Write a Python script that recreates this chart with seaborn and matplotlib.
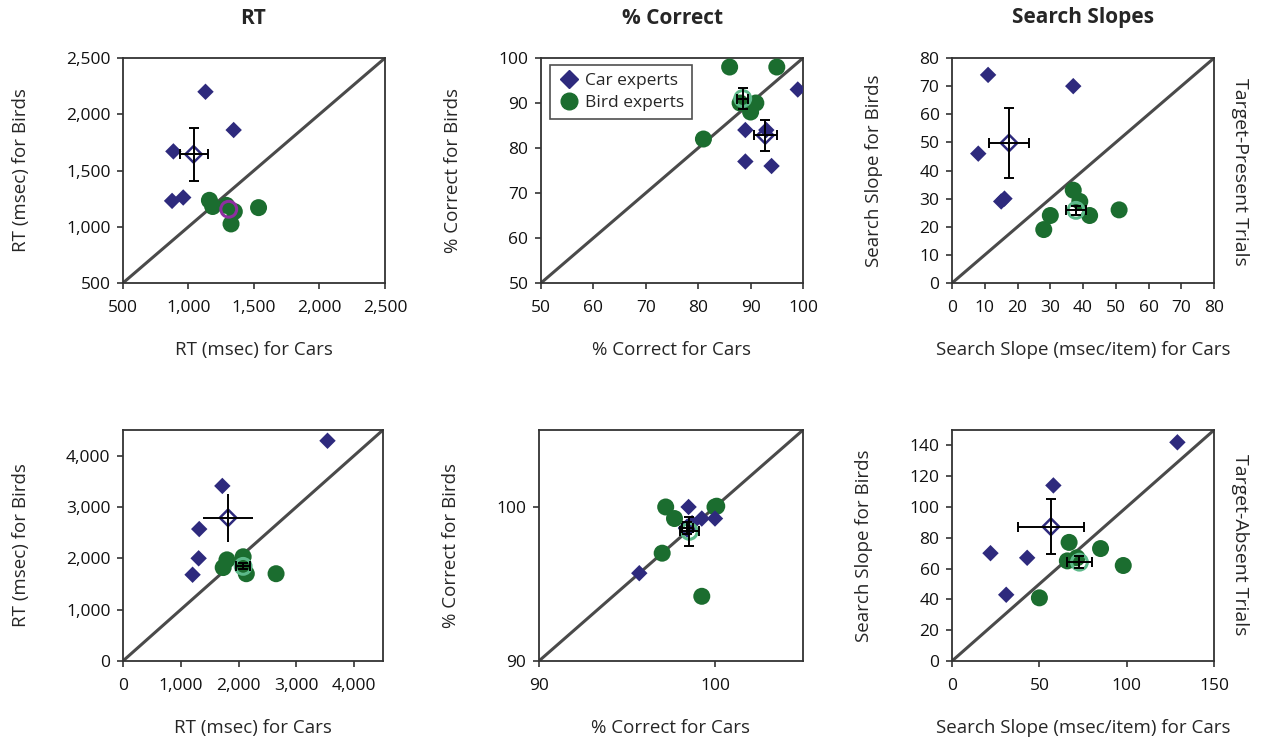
import numpy as np
import matplotlib
matplotlib.use("Agg")
import matplotlib.pyplot as plt
import seaborn as sns
from matplotlib.ticker import StrMethodFormatter
from matplotlib.lines import Line2D

sns.set_style("ticks")
plt.rcParams["font.family"] = ["Open Sans", "DejaVu Sans"]

# ---- data ----
# top row: target-present trials
rt_tp_car_x = [1130, 1345, 885, 875, 960]
rt_tp_car_y = [2200, 1860, 1670, 1230, 1260]
rt_tp_bird_x = [1160, 1185, 1290, 1350, 1325, 1535]
rt_tp_bird_y = [1235, 1180, 1190, 1135, 1025, 1170]

pc_tp_car_x = [99, 89, 89, 93, 94]
pc_tp_car_y = [93, 84, 77, 84, 76]
pc_tp_bird_x = [86, 95, 81, 88, 91, 90]
pc_tp_bird_y = [98, 98, 82, 90, 90, 88]

ss_tp_car_x = [11, 37, 8, 15, 16]
ss_tp_car_y = [74, 70, 46, 29, 30]
ss_tp_bird_x = [37, 39, 30, 42, 28, 51]
ss_tp_bird_y = [33, 29, 24, 24, 19, 26]

# bottom row: target-absent trials
rt_ta_car_x = [3540, 1720, 1320, 1310, 1205]
rt_ta_car_y = [4290, 3410, 2570, 2000, 1680]
rt_ta_bird_x = [1800, 1735, 2080, 2135, 2650, 2080]
rt_ta_bird_y = [1970, 1820, 2030, 1700, 1700, 1840]

pc_ta_car_x = [98.5, 99.25, 100.0, 95.7, 98.7]
pc_ta_car_y = [100.0, 99.25, 99.25, 95.7, 98.95]
pc_ta_bird_x = [97.2, 100.0, 97.7, 97.0, 99.25, 100.1]
pc_ta_bird_y = [100.0, 100.0, 99.25, 97.0, 94.2, 100.05]

ss_ta_car_x = [129, 58, 22, 43, 31]
ss_ta_car_y = [142, 114, 70, 67, 43]
ss_ta_bird_x = [67, 85, 66, 71.5, 98, 50]
ss_ta_bird_y = [77, 73, 65, 67, 62, 41]

# standard errors of the group means (x err, y err)
rt_tp_err = [(107, 237), (0, 0)]
pc_tp_err = [(2.2, 3.5), (1.0, 2.4)]
ss_tp_err = [(6.0, 12.4), (3.0, 1.5)]
rt_ta_err = [(436, 468), (120, 60)]
pc_ta_err = [(0.3, 0.4), (0.55, 0.95)]
ss_ta_err = [(19, 17.7), (7, 4)]

car_color = "#2E2A7D"
bird_color = "#1B6D2F"
bird_mean_color = "#5DB98A"

panels = [
    dict(pos=[0.0975, 0.6186, 0.2078, 0.3032], lim=(500, 2500), ticks=[500, 1000, 1500, 2000, 2500],
         car=(rt_tp_car_x, rt_tp_car_y), bird=(rt_tp_bird_x, rt_tp_bird_y), err=rt_tp_err,
         xlabel="RT (msec) for Cars", ylabel="RT (msec) for Birds", comma=True, bird_mean="#8E2FA0"),
    dict(pos=[0.429, 0.6186, 0.2078, 0.3032], lim=(50, 100), ticks=[50, 60, 70, 80, 90, 100],
         car=(pc_tp_car_x, pc_tp_car_y), bird=(pc_tp_bird_x, pc_tp_bird_y), err=pc_tp_err,
         xlabel="% Correct for Cars", ylabel="% Correct for Birds", comma=False, bird_mean=bird_mean_color),
    dict(pos=[0.755, 0.6186, 0.2078, 0.3032], lim=(0, 80), ticks=list(range(0, 81, 10)),
         car=(ss_tp_car_x, ss_tp_car_y), bird=(ss_tp_bird_x, ss_tp_bird_y), err=ss_tp_err,
         xlabel="Search Slope (msec/item) for Cars", ylabel="Search Slope for Birds", comma=False,
         bird_mean=bird_mean_color),
    dict(pos=[0.0975, 0.1092, 0.2062, 0.3113], lim=(0, 4500), ticks=[0, 1000, 2000, 3000, 4000],
         car=(rt_ta_car_x, rt_ta_car_y), bird=(rt_ta_bird_x, rt_ta_bird_y), err=rt_ta_err,
         xlabel="RT (msec) for Cars", ylabel="RT (msec) for Birds", comma=True, bird_mean=bird_mean_color,
         caps=0),
    dict(pos=[0.4274, 0.1092, 0.2094, 0.3113], lim=(90, 105), ticks=[90, 100],
         car=(pc_ta_car_x, pc_ta_car_y), bird=(pc_ta_bird_x, pc_ta_bird_y), err=pc_ta_err,
         xlabel="% Correct for Cars", ylabel="% Correct for Birds", comma=False, bird_mean=bird_mean_color),
    dict(pos=[0.755, 0.1092, 0.2078, 0.3113], lim=(0, 150), ticks=[0, 50, 100, 150],
         yticks=list(range(0, 141, 20)),
         car=(ss_ta_car_x, ss_ta_car_y), bird=(ss_ta_bird_x, ss_ta_bird_y), err=ss_ta_err,
         xlabel="Search Slope (msec/item) for Cars", ylabel="Search Slope for Birds", comma=False,
         bird_mean=bird_mean_color),
]

fig = plt.figure(figsize=(12.61, 7.42), dpi=100)

for i, p in enumerate(panels):
    ax = fig.add_axes(p["pos"])
    lo, hi = p["lim"]
    # identity line
    ax.plot([lo, hi], [lo, hi], color="#4A4A4A", lw=2.2, zorder=1)

    sns.scatterplot(x=p["bird"][0], y=p["bird"][1], ax=ax, marker="o", s=150,
                    color=bird_color, edgecolor="none", zorder=3)
    sns.scatterplot(x=p["car"][0], y=p["car"][1], ax=ax, marker="D", s=70,
                    color=car_color, edgecolor="none", zorder=4)

    # group means with error bars
    cx, cy = np.mean(p["car"][0]), np.mean(p["car"][1])
    bx, by = np.mean(p["bird"][0]), np.mean(p["bird"][1])
    (cex, cey), (bex, bey) = p["err"]
    ax.scatter(cx, cy, marker="D", s=70, facecolor="none", edgecolor=car_color, linewidth=1.8, zorder=5)
    ax.scatter(bx, by, marker="o", s=130, facecolor="none", edgecolor=p["bird_mean"], linewidth=2.2, zorder=5)
    ax.errorbar(cx, cy, xerr=cex, yerr=cey, fmt="none", ecolor="black", elinewidth=1.4,
                capsize=p.get("caps", 3.5), capthick=1.4, zorder=6)
    if bex or bey:
        ax.errorbar(bx, by, xerr=bex, yerr=bey, fmt="none", ecolor="black", elinewidth=1.4,
                    capsize=3.5, capthick=1.4, zorder=6)

    ax.set_xlim(lo, hi)
    ax.set_ylim(lo, hi)
    ax.set_xticks(p["ticks"])
    ax.set_yticks(p.get("yticks", p["ticks"]))
    if p["comma"]:
        ax.xaxis.set_major_formatter(StrMethodFormatter("{x:,.0f}"))
        ax.yaxis.set_major_formatter(StrMethodFormatter("{x:,.0f}"))
    ax.tick_params(direction="out", length=4, width=1.2, colors="#333333", labelcolor="#111111",
                   labelsize=12.5)
    ax.tick_params(axis="x", pad=8)
    ax.tick_params(axis="y", pad=5)
    for s in ax.spines.values():
        s.set_visible(True)
        s.set_color("#333333")
        s.set_linewidth(1.3)
    ax.set_xlabel(p["xlabel"], fontsize=13.5, labelpad=18)
    ax.set_ylabel(p["ylabel"], fontsize=13.5, labelpad=26)

    if i == 1:
        handles = [
            Line2D([], [], marker="D", color=car_color, linestyle="none", markersize=9),
            Line2D([], [], marker="o", color=bird_color, linestyle="none", markersize=12),
        ]
        leg = ax.legend(handles, ["Car experts", "Bird experts"], loc="upper left",
                        bbox_to_anchor=(0.02, 0.985), fontsize=12.5, frameon=True, fancybox=False,
                        edgecolor="#222222", handletextpad=0.3, borderpad=0.45, labelspacing=0.35,
                        handlelength=1.3, borderaxespad=0.2)
        leg.get_frame().set_linewidth(1.2)

# column titles
for xc, title in [(0.2007, "RT"), (0.533, "% Correct"), (0.859, "Search Slopes")]:
    fig.text(xc, 1 - 18 / 742, title, ha="center", va="center", fontsize=15, fontweight="bold")

# row labels on the right
fig.text(1240 / 1261, 1 - 172 / 742, "Target-Present Trials", rotation=270, ha="center", va="center", fontsize=14)
fig.text(1240 / 1261, 1 - 545 / 742, "Target-Absent Trials", rotation=270, ha="center", va="center", fontsize=14)

fig.savefig("out.png", dpi=100)
